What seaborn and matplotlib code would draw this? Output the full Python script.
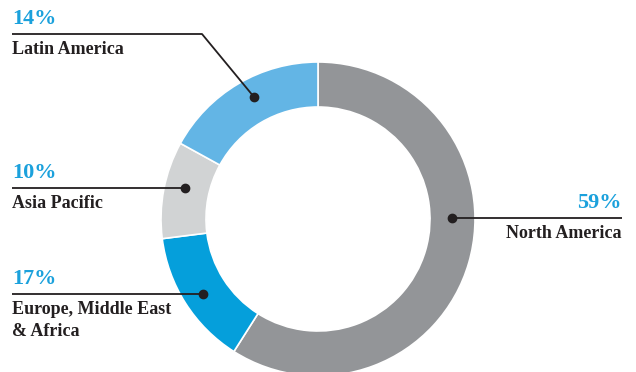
import matplotlib
matplotlib.use("Agg")
import matplotlib.pyplot as plt
import seaborn as sns

# wedge sizes as drawn in the picture (clockwise from 12 o'clock)
regions = ["North America", "Europe, Middle East\n& Africa", "Asia Pacific", "Latin America"]
wedge_shares = [59, 14, 10, 17]
# percentages as printed on the labels
label_pcts = [59, 17, 10, 14]
colors = ["#939598", "#059fdb", "#d1d3d4", "#63b5e5"]

sns.set_theme(style="white")
plt.rcParams['font.family'] = ['Liberation Serif', 'DejaVu Serif']

W, H = 636, 372
fig = plt.figure(figsize=(W / 100, H / 100), dpi=100)
ax = fig.add_axes([0, 0, 1, 1])

cx, cy, R = 318, H - 219, 157
ax.pie(wedge_shares, colors=colors, startangle=90, counterclock=False,
       center=(cx, cy), radius=R, frame=True,
       wedgeprops=dict(width=45, edgecolor='white', linewidth=1.2))
ax.set_xlim(0, W)
ax.set_ylim(0, H)
ax.set_aspect('equal')
ax.axis('off')

# label layout (pixel coords from top): dot, line end x, side
layout = {
    "North America": dict(dot=(452, 218), end=622, ha='right'),
    "Europe, Middle East\n& Africa": dict(dot=(203, 294), end=12, ha='left'),
    "Asia Pacific": dict(dot=(185, 188), end=12, ha='left'),
    "Latin America": dict(dot=(254, 97), end=12, ha='left', elbow=(202, 34)),
}

line_col = "#231f20"
for name, pct in zip(regions, label_pcts):
    L = layout[name]
    dx, dy = L['dot']
    if 'elbow' in L:
        ex, ey = L['elbow']
        xs = [dx, ex, L['end']]
        ys = [H - dy, H - ey, H - ey]
        ly = ey
    else:
        xs = [dx, L['end']]
        ys = [H - dy, H - dy]
        ly = dy
    ax.plot(xs, ys, color=line_col, lw=1.3, solid_capstyle='butt')
    ax.plot(dx, H - dy, 'o', color=line_col, ms=6)
    tx = L['end']
    ax.text(tx, H - ly + 5, f"{pct}%", ha=L['ha'], va='bottom',
            color="#1ba1dc", fontsize=16, fontweight='bold')
    ax.text(tx, H - ly - 7, name, ha=L['ha'], va='top',
            color=line_col, fontsize=13, fontweight='bold', linespacing=1.35)

fig.savefig("out.png", dpi=100)
